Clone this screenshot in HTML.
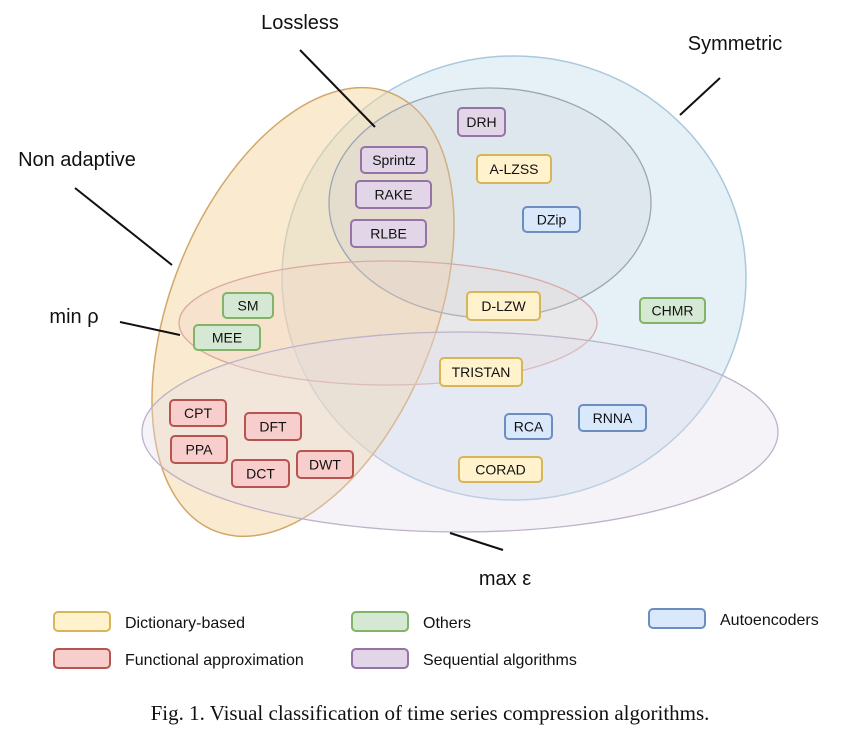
<!DOCTYPE html>
<html><head><meta charset="utf-8"><style>
body{margin:0;background:#fff}
svg text{font-family:"Liberation Sans",sans-serif;fill:#111}
</style></head><body>
<svg width="860" height="732" viewBox="0 0 860 732">
<g>
<ellipse cx="514" cy="278" rx="232" ry="222" fill="#d6e6f2" fill-opacity="0.6" stroke="#a9c9dc" stroke-width="1.5"/>
<ellipse cx="303" cy="312" rx="132" ry="236" transform="rotate(22 303 312)" fill="#f5d6a0" fill-opacity="0.5" stroke="#d2a86a" stroke-width="1.5"/>
<ellipse cx="490" cy="203" rx="161" ry="115" fill="#c8cdd4" fill-opacity="0.25" stroke="#9aa6b2" stroke-width="1.3"/>
<ellipse cx="388" cy="323" rx="209" ry="62" fill="#f0d0c8" fill-opacity="0.25" stroke="#d8aaa4" stroke-width="1.3"/>
<ellipse cx="460" cy="432" rx="318" ry="100" fill="#e2dcea" fill-opacity="0.35" stroke="#bdb2c8" stroke-width="1.3"/>
</g>
<g stroke="#111" stroke-width="2">
<line x1="300" y1="50" x2="375" y2="127"/>
<line x1="720" y1="78" x2="680" y2="115"/>
<line x1="75" y1="188" x2="172" y2="265"/>
<line x1="120" y1="322" x2="180" y2="335"/>
<line x1="450" y1="533" x2="503" y2="550"/>
</g>
<text x="300" y="29" font-size="20" text-anchor="middle">Lossless</text>
<text x="735" y="50" font-size="20" text-anchor="middle">Symmetric</text>
<text x="77" y="166" font-size="20" text-anchor="middle">Non adaptive</text>
<text x="74" y="323" font-size="20" text-anchor="middle">min ρ</text>
<text x="505" y="585" font-size="20" text-anchor="middle">max ε</text>
<g id="boxes"></g>
<g id="legend"></g>
<text x="430" y="720" font-size="21" text-anchor="middle" style="font-family:'Liberation Serif',serif">Fig. 1.  Visual classification of time series compression algorithms.</text>
</svg>
<script>
const colors={y:["#fff2cc","#d6b656"],g:["#d5e8d4","#82b366"],r:["#f8cecc","#b85450"],p:["#e1d5e7","#9673a6"],b:["#dae8fc","#6c8ebf"]};
const boxes=[["DRH",458,108,47,28,"p"],["A-LZSS",477,155,74,28,"y"],["DZip",523,207,57,25,"b"],["Sprintz",361,147,66,26,"p"],["RAKE",356,181,75,27,"p"],["RLBE",351,220,75,27,"p"],["SM",223,293,50,25,"g"],["MEE",194,325,66,25,"g"],["D-LZW",467,292,73,28,"y"],["CHMR",640,298,65,25,"g"],["TRISTAN",440,358,82,28,"y"],["CPT",170,400,56,26,"r"],["DFT",245,413,56,27,"r"],["PPA",171,436,56,27,"r"],["DCT",232,460,57,27,"r"],["DWT",297,451,56,27,"r"],["RCA",505,414,47,25,"b"],["RNNA",579,405,67,26,"b"],["CORAD",459,457,83,25,"y"]];
const legend=[["Dictionary-based",54,612,"y"],["Others",352,612,"g"],["Autoencoders",649,609,"b"],["Functional approximation",54,649,"r"],["Sequential algorithms",352,649,"p"]];
const NS="http://www.w3.org/2000/svg";
function mk(t,a,p){const e=document.createElementNS(NS,t);for(const k in a)e.setAttribute(k,a[k]);p.appendChild(e);return e;}
const bg=document.getElementById('boxes');
boxes.forEach(b=>{
 const g=mk('g',{},bg);
 
 
 mk('rect',{x:b[1],y:b[2],width:b[3],height:b[4],rx:4,fill:colors[b[5]][0],stroke:colors[b[5]][1],'stroke-width':2},g);
 const t=mk('text',{x:b[1]+b[3]/2,y:b[2]+b[4]/2+5,'font-size':14,'text-anchor':'middle'},g);t.textContent=b[0];
});
const lg=document.getElementById('legend');
legend.forEach(l=>{
 const g=mk('g',{},lg);
 
 
 mk('rect',{x:l[1],y:l[2],width:56,height:19,rx:4,fill:colors[l[3]][0],stroke:colors[l[3]][1],'stroke-width':2},g);
 const t=mk('text',{x:l[1]+71,y:l[2]+16,'font-size':16},g);t.textContent=l[0];
});
</script>
</body></html>
